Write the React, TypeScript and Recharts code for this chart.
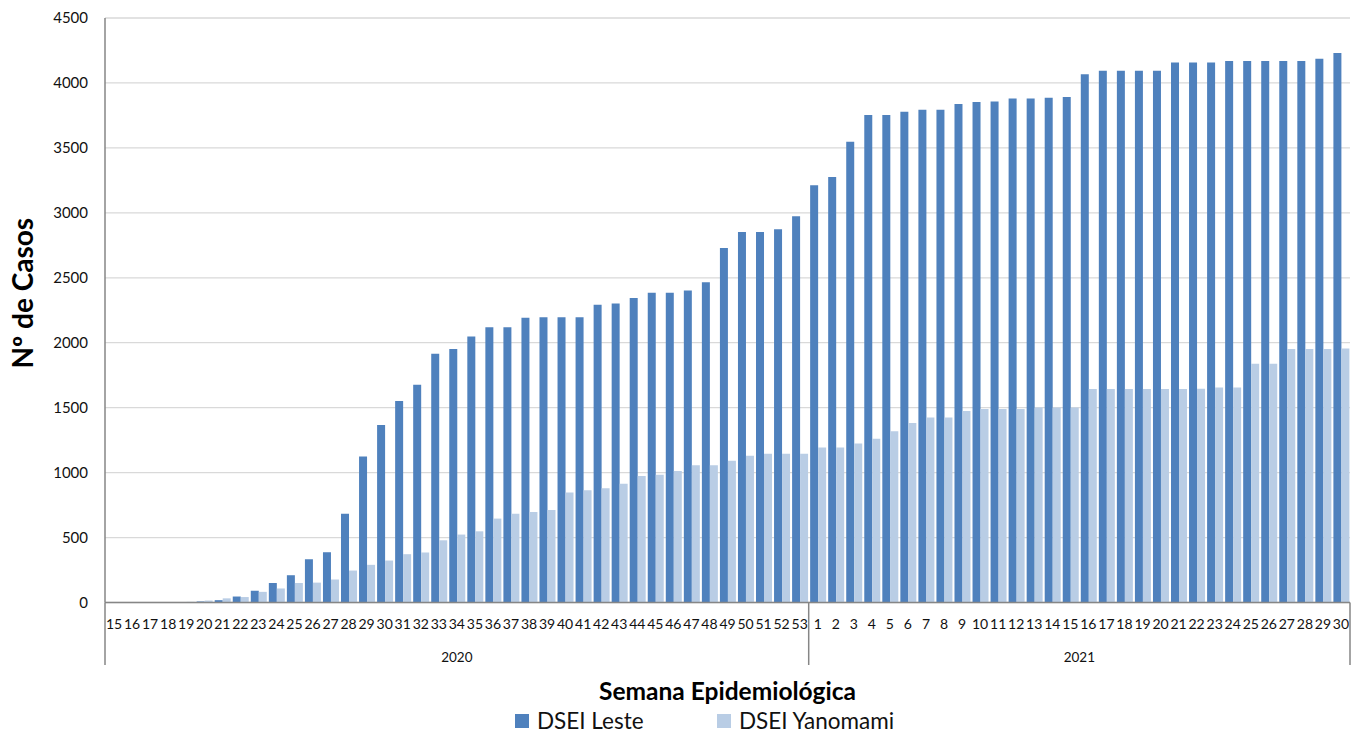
import { BarChart, Bar, XAxis, YAxis, CartesianGrid, Legend, Label } from 'recharts'

const FONT = 'Lato, "Open Sans", sans-serif'

// Semana epidemiológica: 2020 (15-53) e 2021 (1-30)
const weeks2020 = [
  '15', '16', '17', '18', '19', '20', '21', '22', '23', '24', '25', '26', '27',
  '28', '29', '30', '31', '32', '33', '34', '35', '36', '37', '38', '39', '40',
  '41', '42', '43', '44', '45', '46', '47', '48', '49', '50', '51', '52', '53',
]
const weeks2021 = [
  '1', '2', '3', '4', '5', '6', '7', '8', '9', '10', '11', '12', '13', '14', '15',
  '16', '17', '18', '19', '20', '21', '22', '23', '24', '25', '26', '27', '28', '29', '30',
]

const leste2020 = [
  0, 0, 0, 0, 1, 8, 18, 46, 90, 150, 210, 333, 387, 684, 1125, 1366, 1551, 1677,
  1915, 1951, 2048, 2120, 2120, 2192, 2197, 2197, 2197, 2292, 2302, 2345, 2384,
  2384, 2402, 2466, 2730, 2853, 2853, 2874, 2974,
]
const leste2021 = [
  3212, 3276, 3548, 3753, 3753, 3778, 3794, 3794, 3837, 3853, 3858, 3881, 3881,
  3886, 3891, 4066, 4094, 4094, 4094, 4094, 4158, 4158, 4158, 4168, 4168, 4168,
  4168, 4168, 4186, 4230,
]
const yanomami2020 = [
  0, 0, 0, 0, 5, 15, 32, 42, 82, 108, 150, 153, 177, 246, 290, 323, 372, 385, 479,
  523, 548, 646, 684, 697, 713, 846, 864, 879, 915, 974, 984, 1013, 1056, 1056,
  1092, 1130, 1146, 1146, 1146,
]
const yanomami2021 = [
  1194, 1194, 1225, 1261, 1318, 1382, 1425, 1425, 1475, 1490, 1490, 1490, 1502,
  1502, 1502, 1643, 1643, 1643, 1643, 1643, 1643, 1645, 1656, 1656, 1838, 1838,
  1951, 1951, 1951, 1955,
]

const yTicks = [0, 500, 1000, 1500, 2000, 2500, 3000, 3500, 4000, 4500]

const years = [
  { year: '2020', weeks: weeks2020, leste: leste2020, yanomami: yanomami2020 },
  { year: '2021', weeks: weeks2021, leste: leste2021, yanomami: yanomami2021 },
]

const data = years.flatMap((y) =>
  y.weeks.map((w, i) => ({
    week: w,
    year: y.year,
    leste: y.leste[i],
    yanomami: y.yanomami[i],
  })),
)

// first/last index of each year group
const groups = years.reduce<{ year: string; start: number; end: number }[]>((acc, y) => {
  const start = acc.length ? acc[acc.length - 1].end + 1 : 0
  acc.push({ year: y.year, start, end: start + y.weeks.length - 1 })
  return acc
}, [])

const AXIS_GREY = '#868686'
const WEEK_AXIS_H = 30

function WeekTick(props: any) {
  const { x, y, payload } = props
  return (
    <text x={x} y={y + 26} textAnchor="middle" fontSize={14} fontFamily={FONT} fill="#111">
      {payload.value}
    </text>
  )
}

function YearTick(props: any) {
  const { x, y, index, payload } = props
  const half = payload?.offset ?? (1245 / data.length) / 2
  const top = y - WEEK_AXIS_H
  const bottom = y + 32.5
  const parts: any[] = []
  groups.forEach((g) => {
    if (index === g.start) {
      parts.push(<line key="s" x1={x - half} x2={x - half} y1={top} y2={bottom} stroke={AXIS_GREY} strokeWidth={1.5} />)
    }
    if (index === g.end && g.end === data.length - 1) {
      parts.push(<line key="e" x1={x + half} x2={x + half} y1={top} y2={bottom} stroke={AXIS_GREY} strokeWidth={1.5} />)
    }
    const mid = (g.start + g.end) / 2
    if (index === Math.floor(mid)) {
      const lx = x + (mid - Math.floor(mid)) * 2 * half
      parts.push(
        <text key="t" x={lx} y={y + 29.5} textAnchor="middle" fontSize={13.5} fontFamily={FONT} fill="#111">
          {g.year}
        </text>,
      )
    }
  })
  return <g>{parts}</g>
}

function YTitle(props: any) {
  const vb = props.viewBox || { x: 0, y: 18, width: 105, height: 584.5 }
  const cx = 33
  const cy = vb.y + vb.height / 2 - 17
  return (
    <text
      x={cx}
      y={cy}
      transform={`rotate(-90, ${cx}, ${cy})`}
      textAnchor="middle"
      fontSize={28}
      fontWeight="bold"
      fontFamily={FONT}
      fill="#000"
    >
      Nº de Casos
    </text>
  )
}

function LegendContent(props: any) {
  const items = props.payload || []
  const lefts = [515, 717]
  return (
    <div style={{ position: 'relative', width: 1362, height: 24, fontFamily: FONT }}>
      {items.map((it: any, i: number) => (
        <div
          key={it.value}
          style={{ position: 'absolute', left: lefts[i], top: 0, height: 24, display: 'flex', alignItems: 'center' }}
        >
          <span style={{ width: 14, height: 14, background: it.color, display: 'inline-block', marginRight: 8 }} />
          <span style={{ fontSize: 22.5, color: '#111', lineHeight: '24px' }}>{it.value}</span>
        </div>
      ))}
    </div>
  )
}

export default function App() {
  return (
    <div style={{ position: 'absolute', left: 0, top: 0, width: 1362, height: 732, background: '#fff' }}>
      <BarChart
        width={1362}
        height={732}
        data={data}
        margin={{ top: 18, right: 12, left: 0, bottom: 49.5 }}
        barCategoryGap="8%"
        barGap={0}
      >
        <CartesianGrid vertical={false} stroke="#D9D9D9" strokeWidth={1.3} />
        <XAxis
          xAxisId="week"
          dataKey="week"
          interval={0}
          height={WEEK_AXIS_H}
          tickLine={false}
          tickSize={0}
          tickMargin={0}
          axisLine={{ stroke: AXIS_GREY, strokeWidth: 1.5 }}
          tick={<WeekTick />}
        />
        <XAxis
          xAxisId="year"
          dataKey="year"
          interval={0}
          height={50}
          tickLine={false}
          tickSize={0}
          tickMargin={0}
          axisLine={false}
          tick={<YearTick />}
          label={{
            value: 'Semana Epidemiológica',
            position: 'bottom',
            offset: 0,
            style: { fontSize: 24.5, fontWeight: 'bold', fontFamily: FONT, fill: '#000' },
          }}
        />
        <YAxis
          width={105}
          domain={[0, 4500]}
          ticks={yTicks}
          interval={0}
          tickLine={false}
          tickSize={0}
          tickMargin={17}
          axisLine={{ stroke: AXIS_GREY, strokeWidth: 1.5 }}
          tick={{ fill: '#111', fontSize: 15, fontFamily: FONT }}
        >
          <Label content={<YTitle />} />
        </YAxis>
        <Legend
          verticalAlign="middle"
          align="center"
          layout="horizontal"
          wrapperStyle={{ top: 709, left: 0, width: 1362, height: 24 }}
          content={<LegendContent />}
        />
        <Bar xAxisId="week" dataKey="leste" name="DSEI Leste" fill="#4F81BD" isAnimationActive={false} />
        <Bar xAxisId="week" dataKey="yanomami" name="DSEI Yanomami" fill="#B9CDE5" isAnimationActive={false} />
      </BarChart>
    </div>
  )
}
